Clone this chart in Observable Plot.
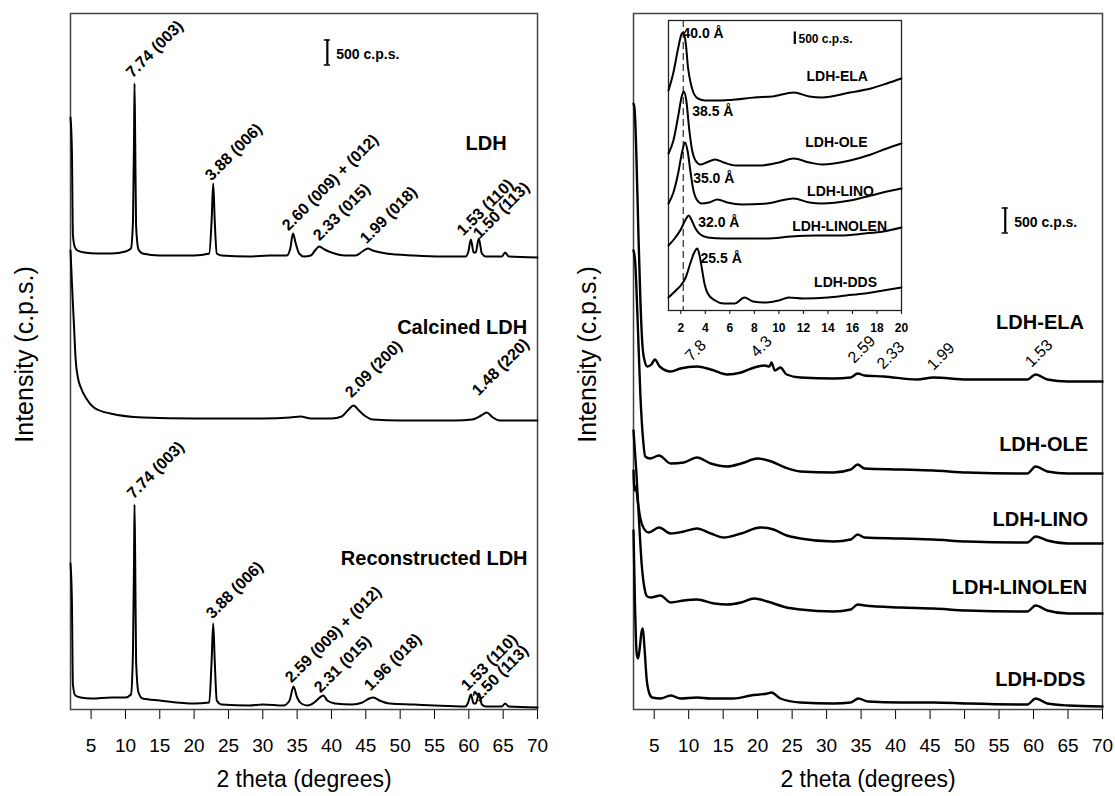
<!DOCTYPE html>
<html><head><meta charset="utf-8">
<script src="https://cdn.jsdelivr.net/npm/d3@7"></script>
<script src="https://cdn.jsdelivr.net/npm/@observablehq/plot@0.6"></script>
<style>
html,body{margin:0;padding:0;background:#fff;}
#chart{position:relative;width:1115px;height:796px;font-family:"Liberation Sans",Arial,Helvetica,sans-serif;}
#chart > div{position:absolute;}
</style></head><body><div id="chart">
<div id="left" style="left:0;top:0"></div>
<div id="right" style="left:563px;top:0"></div>
<div id="inset" style="left:648px;top:10px"></div>
</div>
<script>
// ---------------- DATA ----------------
const xTicks = [5,10,15,20,25,30,35,40,45,50,55,60,65,70];
const insetTicks = [2,4,6,8,10,12,14,16,18,20];
const xTitle = "2 theta (degrees)";
const yTitle = "Intensity (c.p.s.)";

// Left panel (2θ, c.p.s. stacked)
const ldh = [[2.0,11840],[2.2,11200],[2.35,9500],[2.6,9260],[3.0,9180],[4,9140],[6,9120],[8,9120],[10,9160],[10.8,9220],[11.1,9780],[11.25,11380],[11.32,12520],[11.42,11380],[11.55,9680],[11.9,9200],[12.5,9120],[15,9080],[20,9080],[22.2,9120],[22.55,9780],[22.78,10520],[23.0,9780],[23.3,9120],[24,9080],[28,9060],[31,9080],[33.5,9080],[34.0,9220],[34.4,9520],[34.8,9320],[35.3,9120],[36,9060],[37,9080],[37.6,9180],[38.2,9260],[39,9200],[40,9140],[42,9080],[43.5,9080],[44.5,9160],[45.3,9220],[46,9180],[48,9120],[52,9080],[56,9060],[59.5,9060],[59.9,9140],[60.3,9400],[60.7,9140],[61.0,9140],[61.45,9420],[61.9,9120],[62.5,9060],[64.8,9060],[65.3,9140],[65.8,9060],[70,9040]];
const calcined = [[2.0,9180],[2.25,8400],[2.5,7700],[2.75,7000],[3.1,6620],[3.5,6440],[4.3,6220],[5.4,6040],[7.8,5920],[12.6,5840],[20,5820],[30,5820],[34,5840],[35.5,5860],[37,5820],[40,5820],[41.5,5860],[42.5,6000],[43.2,6080],[44,5980],[45,5860],[46,5800],[50,5780],[58,5780],[60.5,5800],[61.8,5880],[62.6,5940],[63.5,5840],[64.5,5780],[70,5780]];
const reconstructed = [[2.0,2920],[2.2,2200],[2.35,500],[2.7,280],[3.5,240],[5,220],[8,240],[10,240],[10.8,300],[11.1,1180],[11.25,2980],[11.32,4100],[11.42,2980],[11.55,980],[11.9,340],[12.5,220],[15,180],[20,120],[22.2,140],[22.55,980],[22.78,1720],[23.0,980],[23.3,180],[24,100],[28,80],[30,100],[33,80],[33.9,180],[34.47,460],[35.0,240],[35.6,120],[36.5,80],[37.5,140],[38.3,240],[38.8,280],[39.4,180],[40.5,120],[43,100],[44.5,140],[45.5,220],[46.1,240],[47,180],[48.5,120],[52,100],[55,80],[59.5,60],[59.9,140],[60.3,300],[60.7,120],[61.0,120],[61.5,320],[61.9,100],[62.5,60],[64.8,60],[65.3,120],[65.8,60],[70,40]];

const leftPeakLabels = [
  {text:"7.74 (003)", x:11.03, y:12620},
  {text:"3.88 (006)", x:22.53, y:10560},
  {text:"2.60 (009) + (012)", x:33.74, y:9560},
  {text:"2.33 (015)", x:38.25, y:9360},
  {text:"1.99 (018)", x:45.1, y:9300},
  {text:"1.53 (110)", x:59.2, y:9460},
  {text:"1.50 (113)", x:61.55, y:9400},
  {text:"2.09 (200)", x:42.9, y:6220},
  {text:"1.48 (220)", x:61.4, y:6260},
  {text:"7.74 (003)", x:11.17, y:4200},
  {text:"3.88 (006)", x:22.67, y:1800},
  {text:"2.59 (009) + (012)", x:34.18, y:520},
  {text:"2.31 (015)", x:38.4, y:320},
  {text:"1.96 (018)", x:45.7, y:360},
  {text:"1.53 (110)", x:59.8, y:360},
  {text:"1.50 (113)", x:61.4, y:140}
];
const leftSamples = [
  {text:"LDH", x:65.5, y:11190},
  {text:"Calcined LDH", x:68.5, y:7520},
  {text:"Reconstructed LDH", x:68.55, y:2890}
];
const leftBar = [{x:39.4, y:12890, span:500, label:"500 c.p.s.", lx:40.7, ly:13010}];

// Right panel
const ela = [[2.0,12120],[2.15,12020],[2.4,11180],[2.7,9580],[3.0,8180],[3.3,7280],[3.6,6980],[4.0,6860],[4.6,6900],[5.1,7000],[5.8,6860],[7.4,6760],[8.8,6820],[11.2,6860],[13.2,6800],[15.6,6700],[17.6,6740],[19.5,6840],[21.0,6880],[21.7,6860],[22.0,6940],[22.5,6780],[23.3,6840],[24.2,6700],[26.2,6640],[31.0,6620],[33.5,6640],[34.5,6720],[35.5,6680],[38.3,6660],[43.1,6600],[45.5,6640],[50.4,6600],[55.2,6600],[59.1,6600],[60.3,6700],[62.0,6600],[65.0,6560],[70.0,6560]];
const ole = [[2.0,9180],[2.25,8940],[2.6,7780],[3.0,6280],[3.4,5380],[3.7,5060],[4.4,5020],[5.7,5080],[7.4,4920],[9.3,4940],[11.2,5040],[13.2,4920],[15.6,4860],[17.6,4920],[20.0,5020],[22.0,4960],[24.0,4840],[26.2,4760],[31.0,4740],[33.5,4800],[34.5,4900],[35.5,4820],[40.7,4800],[45.5,4780],[50.4,4740],[59.1,4720],[60.3,4860],[62.0,4760],[65.0,4720],[70.0,4720]];
const lino = [[2.0,4780],[2.15,4380],[2.35,4460],[2.6,4180],[3.0,3820],[3.5,3620],[4.2,3540],[5.7,3640],[7.4,3520],[9.3,3560],[11.2,3620],[13.2,3520],[15.1,3440],[17.6,3520],[20.4,3640],[22.3,3600],[24.2,3480],[26.2,3420],[31.0,3360],[33.5,3400],[34.5,3500],[35.5,3440],[40.7,3420],[45.5,3400],[50.4,3360],[59.1,3340],[60.3,3460],[62.0,3380],[65.0,3320],[70.0,3320]];
const linolen = [[2.0,5580],[2.4,4780],[2.8,3780],[3.2,2880],[3.6,2420],[4.0,2260],[4.5,2240],[5.9,2280],[7.4,2140],[9.3,2180],[11.2,2200],[13.7,2120],[15.6,2100],[17.6,2140],[19.5,2220],[21.4,2160],[24.2,2040],[26.2,2000],[31.0,1960],[33.5,2000],[34.5,2100],[35.5,2080],[40.7,2040],[45.5,2020],[50.4,1980],[59.1,1960],[60.3,2080],[62.0,1980],[65.0,1920],[70.0,1920]];
const dds = [[2.0,3580],[2.2,2180],[2.45,1140],[2.65,1020],[2.9,1220],[3.15,1540],[3.35,1620],[3.6,1220],[3.9,620],[4.3,320],[4.7,240],[5.9,220],[7.4,280],[8.8,220],[11.2,240],[13.2,220],[16.5,220],[19.0,280],[21.4,320],[22.0,340],[23.3,220],[26.2,140],[31.0,120],[33.5,140],[34.6,220],[36.0,160],[40.7,140],[45.5,140],[50.4,120],[59.1,100],[60.3,220],[62.0,120],[65.0,80],[70.0,60]];

const rightPeakLabels = [
  {text:"7.8", x:10.4, y:6950},
  {text:"4.3", x:19.9, y:7030},
  {text:"2.59", x:34.0, y:6910},
  {text:"2.33", x:38.2, y:6790},
  {text:"1.99", x:45.5, y:6770},
  {text:"1.53", x:59.7, y:6830}
];
const rightSamples = [
  {text:"LDH-ELA", x:67.3, y:7620},
  {text:"LDH-OLE", x:67.9, y:5180},
  {text:"LDH-LINO", x:67.9, y:3680},
  {text:"LDH-LINOLEN", x:67.8, y:2320},
  {text:"LDH-DDS", x:67.5, y:480}
];
const rightBar = [{x:55.9, y:9530, span:500, label:"500 c.p.s.", lx:57.2, ly:9650}];

// Inset (low angle, 1–20°)
const insetEla = [[1.0,8800],[1.4,9520],[1.8,10520],[2.05,11040],[2.2,11120],[2.4,10720],[2.6,9680],[2.8,9120],[3.0,8760],[3.4,8480],[4.0,8400],[5,8400],[6.5,8440],[8,8520],[9.5,8560],[11.2,8720],[12.5,8560],[13.5,8520],[15.8,8720],[17.5,8880],[18.8,9080],[20,9280]];
const insetOle = [[1.0,6280],[1.4,6800],[1.8,7800],[2.1,8600],[2.25,8760],[2.45,8400],[2.7,7200],[2.9,6480],[3.2,6000],[3.6,5840],[4.1,5920],[4.8,6040],[5.5,5920],[6.5,5800],[8.5,5800],[10,5920],[11.2,6080],[12.5,5920],[13.5,5840],[15.8,6000],[17.5,6240],[18.8,6480],[20,6680]];
const insetLino = [[1.0,4280],[1.4,4720],[1.8,5520],[2.1,6320],[2.35,6720],[2.55,6400],[2.8,5520],[3.0,4880],[3.3,4440],[3.7,4280],[4.3,4320],[5.0,4440],[5.8,4320],[7,4240],[9,4280],[11.2,4480],[12.5,4320],[13.5,4280],[15.8,4400],[17.5,4600],[18.8,4760],[20,4880]];
const insetLinolen = [[1.0,2600],[1.5,2880],[2.0,3240],[2.4,3640],[2.65,3800],[2.9,3600],[3.2,3280],[3.6,3040],[4.2,2920],[5.5,2880],[7,2880],[9.0,2880],[11,2960],[13,3000],[15,3000],[17,3080],[18.5,3160],[20,3320]];
const insetDds = [[1.0,520],[1.6,800],[2.0,1000],[2.4,1320],[2.8,1920],[3.1,2320],[3.35,2480],[3.55,2160],[3.75,1600],[3.95,1040],[4.2,680],[4.8,400],[5.5,280],[6.4,280],[7.2,520],[7.9,360],[9.0,320],[10.0,400],[10.8,520],[12,480],[14,520],[15.5,600],[17,680],[18.5,800],[20,920]];
const insetGuide = [2.2];
const insetDLabels = [
  {text:"40.0 Å", x:2.14, y:10920},
  {text:"38.5 Å", x:2.93, y:7800},
  {text:"35.0 Å", x:3.01, y:5120},
  {text:"32.0 Å", x:3.42, y:3360},
  {text:"25.5 Å", x:3.61, y:1920}
];
const insetSamples = [
  {text:"LDH-ELA", x:14.76, y:9200},
  {text:"LDH-OLE", x:14.69, y:6560},
  {text:"LDH-LINO", x:15.03, y:4600},
  {text:"LDH-LINOLEN", x:14.95, y:3200},
  {text:"LDH-DDS", x:15.44, y:960}
];
const insetBar = [{x:11.3, y:10640, span:500, label:"500 c.p.s.", lx:11.6, ly:10720}];

// ---------------- DRAWING ----------------
const FONT = '"Liberation Sans", Arial, Helvetica, sans-serif';

function scaleBarMarks(bar, fontSize, capHalf) {
  const m = [
    Plot.ruleX(bar, {x: "x", y1: "y", y2: d => d.y + d.span, stroke: "#000", strokeWidth: 2.2}),
    Plot.text(bar, {x: "lx", y: "ly", text: "label", textAnchor: "start", lineAnchor: "bottom", fontSize, fontWeight: "bold", fill: "#000"})
  ];
  if (capHalf) {
    m.push(Plot.ruleY(bar, {y: "y", x1: d => d.x - capHalf, x2: d => d.x + capHalf, stroke: "#000", strokeWidth: 1.5}));
    m.push(Plot.ruleY(bar, {y: d => d.y + d.span, x1: d => d.x - capHalf, x2: d => d.x + capHalf, stroke: "#000", strokeWidth: 1.5}));
  }
  return m;
}

function mainPlot({width, marginLeft, marginRight, series, sw, peakLabels, peakWeight, samples, bar}) {
  return Plot.plot({
    width, height: 796,
    marginLeft, marginRight, marginTop: 13, marginBottom: 87,
    style: {fontFamily: FONT, fontSize: "19px", color: "#000", background: "transparent", overflow: "visible"},
    x: {domain: [2, 70], ticks: xTicks, tickSize: 10, tickPadding: 19, label: null},
    y: {domain: [0, 13920], axis: null},
    marks: [
      Plot.frame({stroke: "#444", strokeWidth: 1.5}),
      ...series.map(s => Plot.line(s, {x: d => d[0], y: d => d[1], stroke: "#000", strokeWidth: sw, curve: "monotone-x"})),
      Plot.text(peakLabels, {x: "x", y: "y", text: "text", rotate: -45, textAnchor: "start", lineAnchor: "bottom", fontSize: 16, fontWeight: peakWeight, fill: "#000"}),
      Plot.text(samples, {x: "x", y: "y", text: "text", textAnchor: "end", lineAnchor: "bottom", fontSize: 20, fontWeight: "bold", fill: "#000"}),
      ...scaleBarMarks(bar, 14, 0.45),
      Plot.text([xTitle], {frameAnchor: "bottom", text: d => d, dy: 70, lineAnchor: "middle", fontSize: 23, fill: "#000"}),
      Plot.text([yTitle], {frameAnchor: "left", text: d => d, rotate: -90, dx: -46, dy: -7, textAnchor: "middle", lineAnchor: "middle", fontSize: 25, fill: "#000"})
    ]
  });
}

document.getElementById("left").appendChild(mainPlot({
  width: 560, marginLeft: 70, marginRight: 23,
  series: [ldh, calcined, reconstructed], sw: 2,
  peakLabels: leftPeakLabels, peakWeight: "bold",
  samples: leftSamples, bar: leftBar
}));

document.getElementById("right").appendChild(mainPlot({
  width: 552, marginLeft: 70, marginRight: 13,
  series: [ela, ole, lino, linolen, dds], sw: 2.4,
  peakLabels: rightPeakLabels, peakWeight: "normal",
  samples: rightSamples, bar: rightBar
}));

document.getElementById("inset").appendChild(Plot.plot({
  width: 263, height: 330,
  marginLeft: 20, marginRight: 10, marginTop: 10, marginBottom: 30,
  style: {fontFamily: FONT, fontSize: "12px", fontWeight: "bold", color: "#000", background: "transparent", overflow: "visible"},
  x: {domain: [1, 20], ticks: insetTicks, tickSize: 4, tickPadding: 9, label: null},
  y: {domain: [0, 11600], axis: null},
  marks: [
    Plot.frame({fill: "#fff", stroke: "#222", strokeWidth: 1.3}),
    Plot.ruleX(insetGuide, {stroke: "#000", strokeWidth: 1, strokeDasharray: "7,4"}),
    ...[insetEla, insetOle, insetLino, insetLinolen, insetDds].map(s =>
      Plot.line(s, {x: d => d[0], y: d => d[1], stroke: "#000", strokeWidth: 2, curve: "monotone-x"})),
    Plot.text(insetDLabels, {x: "x", y: "y", text: "text", textAnchor: "start", lineAnchor: "bottom", fontSize: 14, fontWeight: "bold", fill: "#000"}),
    Plot.text(insetSamples, {x: "x", y: "y", text: "text", textAnchor: "middle", lineAnchor: "bottom", fontSize: 14, fontWeight: "bold", fill: "#000"}),
    ...scaleBarMarks(insetBar, 12, 0)
  ]
}));
</script>
</body></html>
